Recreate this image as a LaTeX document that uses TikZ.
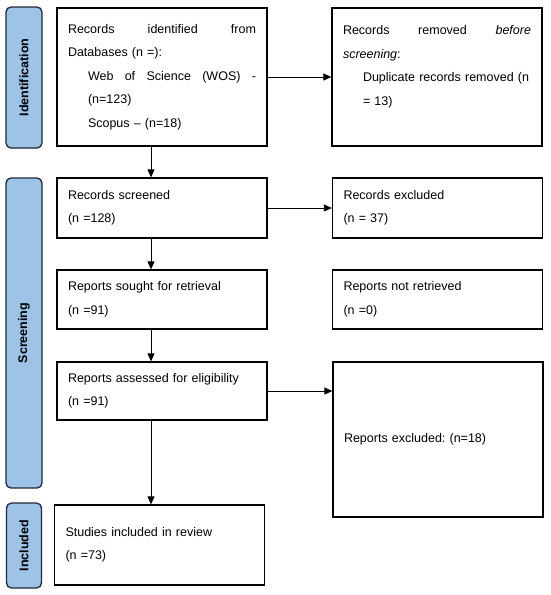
\documentclass[tikz,border=0pt]{standalone}
\usepackage{fontspec}
\setmainfont{Liberation Sans}
\usetikzlibrary{arrows.meta}
\definecolor{sidefill}{HTML}{9DC3E6}
\definecolor{sidedraw}{HTML}{1F2A3A}
\newcommand\jline[2]{\makebox[#1][s]{\spaceskip=0pt\xspaceskip=0pt\relax #2}}
\frenchspacing
\begin{document}
\begin{tikzpicture}[x=1pt,y=-1pt,
  box/.style={draw=black,line width=1.3pt,rectangle,align=left,text width=188pt,inner xsep=11pt,inner ysep=0pt,
    font=\fontsize{12.5}{23.5}\selectfont\frenchspacing},
  side/.style={draw=sidedraw,fill=sidefill,line width=1.3pt,rounded corners=5pt,minimum width=36pt,inner sep=0pt},
  sidelabel/.style={rotate=90,font=\fontsize{12.5}{14}\selectfont\bfseries,text=black},
  arr/.style={line width=0.8pt,-{Triangle[length=8pt,width=7pt]}}]
\useasboundingbox (0,0) rectangle (550,595);
% side bars
\node[side,minimum height=141pt] (s1) at (24,77.5) {};
\node[sidelabel] (s1t) at (s1.center) {Identification};
\node[side,minimum height=310pt] (s2) at (24,333) {};
\node[sidelabel] (s2t) at (s2.center) {Screening};
\node[side,minimum width=35pt,minimum height=85pt] (s3) at (24,545.5) {};
\node[sidelabel] (s3t) at (s3.center) {Included};
% boxes
\node[box,minimum height=138pt] (b1) at (162,77) {\jline{188pt}{Records identified from}\\
Databases (n =):\\
\hspace*{20pt}\jline{168pt}{Web of Science (WOS) -}\\
\hspace*{20pt}(n=123)\\
\hspace*{20pt}Scopus – (n=18)};
\node[box,minimum height=138pt] (b2) at (437,77) {\jline{188pt}{Records removed \textit{before}}\\
\textit{screening}:\\
\hspace*{20pt}Duplicate records removed (n\\
\hspace*{20pt}= 13)\\
\mbox{}};
\node[box,minimum height=60pt] (b3) at (162,208) {Records screened\\(n =128)};
\node[box,minimum height=60pt] (b4) at (437.5,208) {Records excluded\\(n = 37)};
\node[box,minimum height=59pt] (b5) at (162,299.5) {Reports sought for retrieval\\(n =91)};
\node[box,minimum height=59pt] (b6) at (437.5,299.5) {Reports not retrieved\\(n =0)};
\node[box,minimum height=58pt] (b7) at (162,391) {Reports assessed for eligibility\\(n =91)};
\node[box,minimum height=155pt] (b8) at (438,439.5) {Reports excluded: (n=18)};
\node[box,minimum height=80pt] (b9) at (159.5,545) {Studies included in review\\(n =73)};
% arrows
\coordinate (ax) at (151,0);
\draw[arr] (b1.east) -- (b2.west);
\draw[arr] (b3.east) -- (b4.west);
\draw[arr] (b7.east) -- (b7.east -| b8.west);
\draw[arr] (b1.south -| ax) -- (b3.north -| ax);
\draw[arr] (b3.south -| ax) -- (b5.north -| ax);
\draw[arr] (b5.south -| ax) -- (b7.north -| ax);
\draw[arr] (b7.south -| ax) -- (b9.north -| ax);
\end{tikzpicture}
\end{document}
